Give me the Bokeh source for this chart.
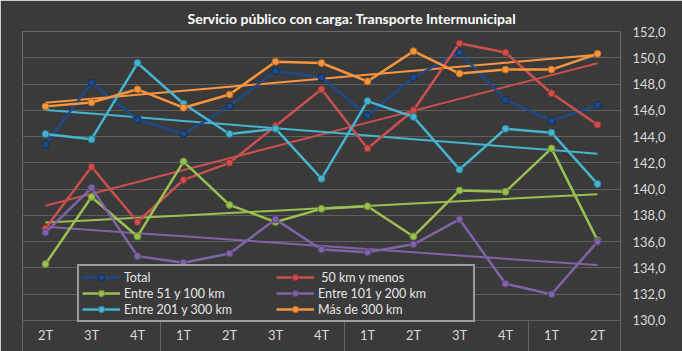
import numpy as np
from bokeh.plotting import figure
from bokeh.models import Range1d, FixedTicker, Legend, LegendItem
from bokeh.core.properties import value
from bokeh.embed import file_html
from bokeh.resources import INLINE

title_text = "Servicio público con carga: Transporte Intermunicipal"
quarters = ["2T", "3T", "4T", "1T", "2T", "3T", "4T", "1T", "2T", "3T", "4T", "1T", "2T"]

total = [143.4, 148.1, 145.3, 144.2, 146.3, 149.0, 148.5, 145.6, 148.5, 150.4, 146.8, 145.2, 146.4]
km50_menos = [137.0, 141.7, 137.5, 140.7, 142.0, 144.8, 147.6, 143.1, 146.0, 151.1, 150.4, 147.3, 144.9]
km51_100 = [134.3, 139.4, 136.4, 142.1, 138.8, 137.5, 138.5, 138.7, 136.4, 139.9, 139.8, 143.1, 136.1]
km101_200 = [136.7, 140.1, 134.9, 134.4, 135.1, 137.7, 135.4, 135.2, 135.8, 137.7, 132.8, 132.0, 136.0]
km201_300 = [144.2, 143.8, 149.6, 146.5, 144.2, 144.6, 140.8, 146.7, 145.5, 141.5, 144.6, 144.3, 140.4]
km300_mas = [146.3, 146.6, 147.6, 146.2, 147.2, 149.7, 149.6, 148.2, 150.5, 148.8, 149.1, 149.1, 150.3]

series_names = ["Total", " 50 km y menos", "Entre 51 y 100 km", "Entre 101 y 200 km",
                "Entre 201 y 300 km", "Más de 300 km"]
series_values = [total, km50_menos, km51_100, km101_200, km201_300, km300_mas]
series_trend = [False, True, True, True, True, True]
series_colors = ["#1d4a8a", "#c9504d", "#9bc052", "#8063a6", "#46b3cf", "#f7963f"]
marker_edges = ["#0f2e5c", "#8e2f2d", "#6a8a30", "#54407a", "#2a7f96", "#b5661f"]

y_ticks = [130, 132, 134, 136, 138, 140, 142, 144, 146, 148, 150, 152]

FONT = "Lato"
BG = "#3a3a3a"
LINE_GRAY = "#636363"

n = len(quarters)
xs = np.arange(n)
breaks = [-0.5] + [i - 0.5 for i, q in enumerate(quarters) if q == "1T" and i > 0] + [n - 0.5]

# the category strip sits inside the frame, below the 130 gridline
y_floor = 127.64
label_y = 128.86

p = figure(width=682, height=351, output_backend="svg", toolbar_location=None,
           x_range=Range1d(-0.5, n - 0.5), y_range=Range1d(y_floor, y_ticks[-1]),
           y_axis_location="right", min_border_left=22, min_border_right=62,
           min_border_top=31, min_border_bottom=0)
p.background_fill_color = BG
p.border_fill_color = BG
p.outline_line_color = None

p.title.text = title_text
p.title.align = "left"
p.title.offset = 165
p.title.standoff = 9
p.title.text_font = FONT
p.title.text_font_style = "bold"
p.title.text_font_size = "14px"
p.title.text_color = "#ffffff"

p.xaxis.visible = False

ya = p.yaxis[0]
ya.ticker = FixedTicker(ticks=y_ticks)
ya.major_label_overrides = {t: f"{t:.1f}".replace(".", ",") for t in y_ticks}
ya.major_tick_out = 0
ya.major_tick_in = 0
ya.minor_tick_out = 0
ya.minor_tick_in = 0
ya.axis_line_color = None
ya.major_label_standoff = 12
ya.major_label_text_font = FONT
ya.major_label_text_font_size = "13px"
ya.major_label_text_color = "#d9d9d9"

p.xgrid.visible = False
p.ygrid.ticker = FixedTicker(ticks=y_ticks)
p.ygrid.grid_line_color = "#5e5e5e"
p.ygrid.grid_line_width = 1

# category strip: year separators and quarter labels
p.segment(x0=breaks, y0=[y_floor] * len(breaks), x1=breaks, y1=[y_ticks[0]] * len(breaks),
          line_color=LINE_GRAY, line_width=1)
p.text(x=xs, y=[label_y] * n, text=quarters, text_align="center", text_baseline="middle",
       text_font=value(FONT), text_font_size="13px", text_color="#d9d9d9")

items = []
for vals, col, has_trend in zip(series_values, series_colors, series_trend):
    if has_trend:
        slope, icpt = np.polyfit(xs, vals, 1)
        p.line(xs, slope * xs + icpt, line_color=col, line_width=2)
for name, vals, col, edge in zip(series_names, series_values, series_colors, marker_edges):
    r1 = p.line(xs, vals, line_color=col, line_width=2.5)
    r2 = p.scatter(xs, vals, size=7, fill_color=col, line_color=edge, line_width=1)
    items.append(LegendItem(label=name, renderers=[r1, r2]))

order = [0, 2, 4, 1, 3, 5]
legend = Legend(items=[items[i] for i in order], orientation="vertical", nrows=3,
                location=(55, 29))
legend.border_line_color = "#ffffff"
legend.border_line_width = 2
legend.background_fill_color = BG
legend.background_fill_alpha = 1
legend.label_text_color = "#e6e6e6"
legend.label_text_font = FONT
legend.label_text_font_size = "12.5px"
legend.glyph_width = 38
legend.glyph_height = 16
legend.label_height = 16
legend.label_width = 152
legend.label_standoff = 4
legend.spacing = 0
legend.padding = 3
legend.margin = 0
p.add_layout(legend)

open("out.html", "w").write(file_html(p, INLINE))
